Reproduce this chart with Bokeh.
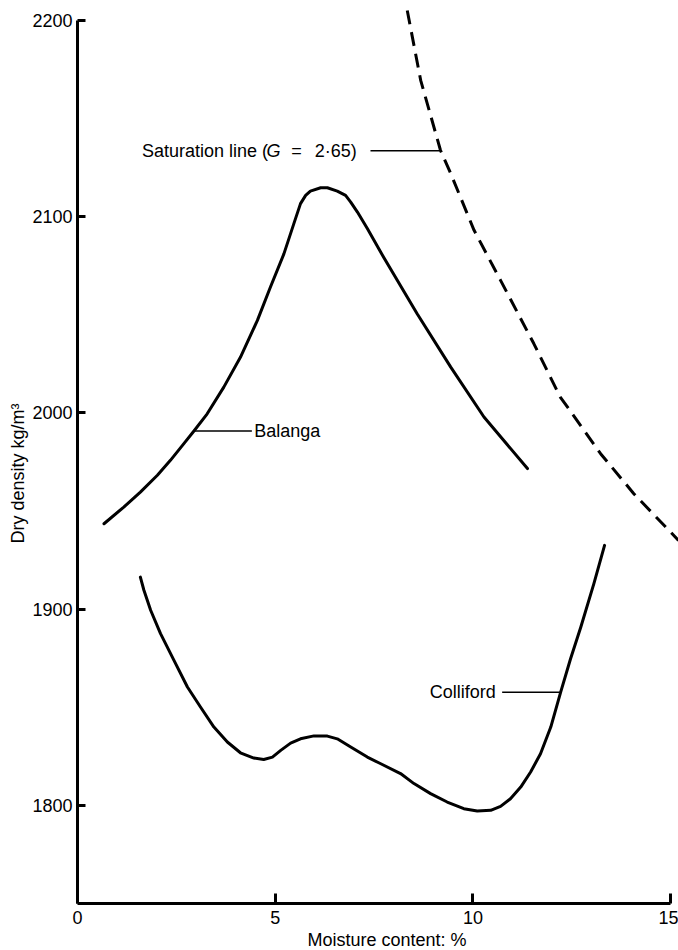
import math
from bokeh.plotting import figure
from bokeh.models import Range1d, FixedTicker, Title
from bokeh.core.properties import value
from bokeh.embed import file_html
from bokeh.resources import INLINE

# ---- data ----
balanga_x = [0.67, 1.17, 1.59, 2.02, 2.35, 2.69, 2.94, 3.28, 3.70, 4.12, 4.55, 4.88, 5.22, 5.47, 5.64,
             5.77, 5.89, 6.15, 6.32, 6.57, 6.78, 6.91, 7.08, 7.33, 7.75, 8.59, 9.44, 10.28, 11.38]
balanga_y = [1943.5, 1952.0, 1959.6, 1968.2, 1975.8, 1984.3, 1990.6, 1999.5, 2013.1, 2028.3, 2047.1,
             2064.1, 2081.0, 2096.3, 2106.6, 2110.8, 2113.0, 2114.7, 2114.7, 2113.0, 2110.8, 2107.4,
             2102.3, 2093.9, 2079.0, 2050.5, 2023.3, 1997.9, 1971.6]

colliford_x = [1.59, 1.68, 1.85, 2.10, 2.44, 2.78, 3.11, 3.45, 3.79, 4.12, 4.46, 4.71, 4.93, 5.14, 5.39,
               5.64, 5.98, 6.32, 6.57, 6.91, 7.33, 7.67, 8.17, 8.51, 8.93, 9.35, 9.77, 10.11, 10.45,
               10.70, 10.95, 11.21, 11.46, 11.71, 11.97, 12.22, 12.47, 12.73, 13.06, 13.33]
colliford_y = [1916.3, 1909.6, 1899.4, 1887.5, 1873.9, 1860.3, 1850.1, 1839.9, 1832.3, 1826.8, 1824.1,
               1823.4, 1824.6, 1828.0, 1831.7, 1833.9, 1835.4, 1835.3, 1833.9, 1829.7, 1824.6, 1821.2,
               1816.2, 1811.1, 1806.0, 1801.7, 1798.3, 1797.1, 1797.5, 1799.5, 1803.4, 1809.3, 1817.0,
               1826.3, 1839.9, 1857.7, 1874.7, 1890.9, 1913.0, 1932.5]

saturation_x = [8.34, 8.68, 9.18, 9.44, 10.03, 10.70, 11.54, 12.21, 12.39, 13.23, 14.07, 15.20]
saturation_y = [2205.0, 2169.4, 2133.8, 2121.9, 2093.0, 2067.5, 2035.3, 2008.0, 2003.0, 1979.2,
                1958.8, 1935.0]

x_ticks = [0, 5, 10, 15]
y_ticks = [1800, 1900, 2000, 2100, 2200]

FONT = "Liberation Sans"
FS = "18px"

p = figure(width=678, height=950, output_backend="svg", toolbar_location=None,
           x_range=Range1d(0, 15.2), y_range=Range1d(1750, 2210.1),
           min_border_left=77, min_border_right=0, min_border_top=0, min_border_bottom=47)
p.outline_line_color = None
p.xgrid.visible = False
p.ygrid.visible = False
p.background_fill_color = "white"
p.border_fill_color = "white"

for ax, ticks, bounds, tick_len, standoff in (
        (p.xaxis, x_ticks, (0, 15), 10, 7),
        (p.yaxis, y_ticks, (1750, 2200), 8, 5)):
    ax.ticker = FixedTicker(ticks=ticks)
    ax.bounds = bounds
    ax.axis_line_width = 3
    ax.axis_line_color = "black"
    ax.major_tick_in = tick_len
    ax.major_tick_out = 0
    ax.major_tick_line_width = 3
    ax.major_tick_line_color = "black"
    ax.minor_tick_in = 0
    ax.minor_tick_out = 0
    ax.major_label_text_font = FONT
    ax.major_label_text_font_size = FS
    ax.major_label_text_color = "black"
    ax.major_label_standoff = standoff

# curves
p.line(balanga_x, balanga_y, line_width=3, line_color="black", line_join="round", line_cap="round")
p.line(colliford_x, colliford_y, line_width=3, line_color="black", line_join="round", line_cap="round")
p.line(saturation_x, saturation_y, line_width=3, line_color="black", line_dash="14 8",
       line_join="round")

# leader lines
p.line([2.94, 4.41], [1990.8, 1990.8], line_width=1.5, line_color="black")
p.line([10.74, 12.22], [1857.7, 1857.7], line_width=1.5, line_color="black")
p.line([7.41, 9.18], [2133.6, 2133.6], line_width=1.5, line_color="black")

def txt(x, y, s, align="left", style="normal"):
    p.text(x=[x], y=[y], text=[s], text_font=value(FONT), text_font_size=value(FS),
           text_font_style=style, text_align=align, text_baseline="middle", text_color="black")

txt(4.47, 1990.8, "Balanga")
txt(10.58, 1857.7, "Colliford", align="right")
txt(1.63, 2133.4, "Saturation line (")
txt(4.78, 2133.4, "G", style="italic")
txt(5.54, 2133.4, "=", align="center")
txt(6.00, 2133.4, "2·65)")

# axis titles
p.add_layout(Title(text="Dry density kg/m³", align="left", offset=360, standoff=4,
                   text_font=FONT, text_font_size=FS, text_font_style="normal",
                   text_color="black"), "left")
p.add_layout(Title(text="Moisture content: %", align="left", offset=230, standoff=2,
                   text_font=FONT, text_font_size=FS, text_font_style="normal",
                   text_color="black"), "below")

open("out.html", "w").write(file_html(p, INLINE))
